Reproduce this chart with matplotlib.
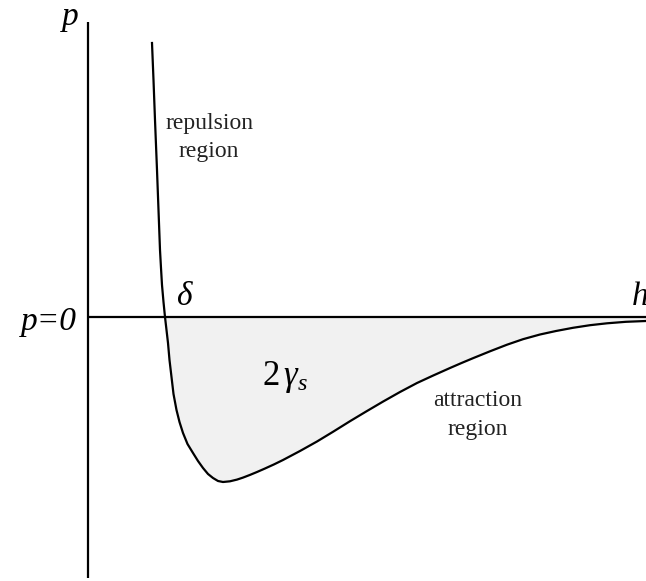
"""Disjoining pressure p(h) between two surfaces: repulsion close in,
attraction further out, with the shaded well giving the work of adhesion."""

import matplotlib.pyplot as plt
import numpy as np

plt.rcParams.update(
    {
        "font.family": "serif",
        "font.serif": ["Liberation Serif", "DejaVu Serif"],
        "mathtext.fontset": "custom",
        "mathtext.rm": "Liberation Serif",
        "mathtext.it": "Liberation Serif:italic",
    }
)

# Pressure curve, separation h against pressure p (arbitrary units).
H = [0.64, 0.655, 0.67, 0.69, 0.705, 0.72, 0.73, 0.74, 0.755, 0.77, 0.785,
     0.80, 0.815, 0.835, 0.855, 0.885, 0.915, 0.95, 0.995, 1.05, 1.10, 1.15,
     1.20, 1.25, 1.30, 1.35, 1.42, 1.49, 1.55, 1.62, 1.69, 1.77, 1.86, 1.95,
     2.12, 2.29, 2.45, 2.62, 2.78, 2.95, 3.12, 3.29, 3.45, 3.62, 3.74, 3.85,
     4.02, 4.19, 4.35, 4.52, 4.68, 4.85, 5.02, 5.19, 5.38, 5.58]
P = [2.74, 2.37, 1.97, 1.47, 1.07, 0.67, 0.49, 0.32, 0.15, 0.0, -0.13,
     -0.26, -0.43, -0.60, -0.77, -0.93, -1.05, -1.16, -1.27, -1.36, -1.44,
     -1.51, -1.57, -1.61, -1.64, -1.65, -1.643, -1.626, -1.606, -1.579,
     -1.55, -1.515, -1.474, -1.43, -1.34, -1.245, -1.148, -1.042, -0.946,
     -0.846, -0.75, -0.66, -0.586, -0.51, -0.458, -0.412, -0.343, -0.277,
     -0.222, -0.175, -0.14, -0.108, -0.082, -0.063, -0.048, -0.04]

H_MAX = 5.58
P_AXIS = (-2.61, 2.95)

LINE = "#000000"
FILL = "#f1f1f1"
LABEL = "#222222"

h = np.array(H)
p = np.array(P)

fig = plt.figure(figsize=(6.46, 5.81), dpi=100)
ax = fig.add_axes([0, 0, 1, 1])
ax.set_xlim(-0.88, H_MAX)
ax.set_ylim(-2.64, 3.17)
ax.axis("off")

# Attractive well between the curve and p = 0.
ax.fill_between(h, p, 0, where=p <= 0, color=FILL, lw=0, zorder=1)

# Axes drawn as plain lines.
ax.plot([0, 0], P_AXIS, color=LINE, lw=1.6, solid_capstyle="butt", zorder=2)
ax.plot([0, H_MAX], [0, 0], color=LINE, lw=1.6, solid_capstyle="butt", zorder=2)

ax.plot(h, p, color=LINE, lw=1.6, solid_joinstyle="round", zorder=3)

big = dict(fontsize=24, fontstyle="italic", color=LINE)
ax.text(-0.09, 2.92, "p", ha="right", va="baseline", **big)
ax.text(-0.11, -0.13, "p=0", ha="right", va="baseline", **big)
ax.text(0.88, 0.12, "δ", ha="left", va="baseline", **big)
ax.text(5.44, 0.12, "h", ha="left", va="baseline", **big)
ax.text(1.74, -0.68, r"$2\,\gamma_s$", ha="left", va="baseline",
        fontsize=25, color=LINE)

small = dict(fontsize=17, color=LABEL, ha="center", va="center",
             multialignment="center", linespacing=1.45)
ax.text(1.21, 1.795, "repulsion\nregion", **small)
ax.text(3.90, -0.98, "attraction\nregion", **small)

fig.savefig("out.png", dpi=100)
